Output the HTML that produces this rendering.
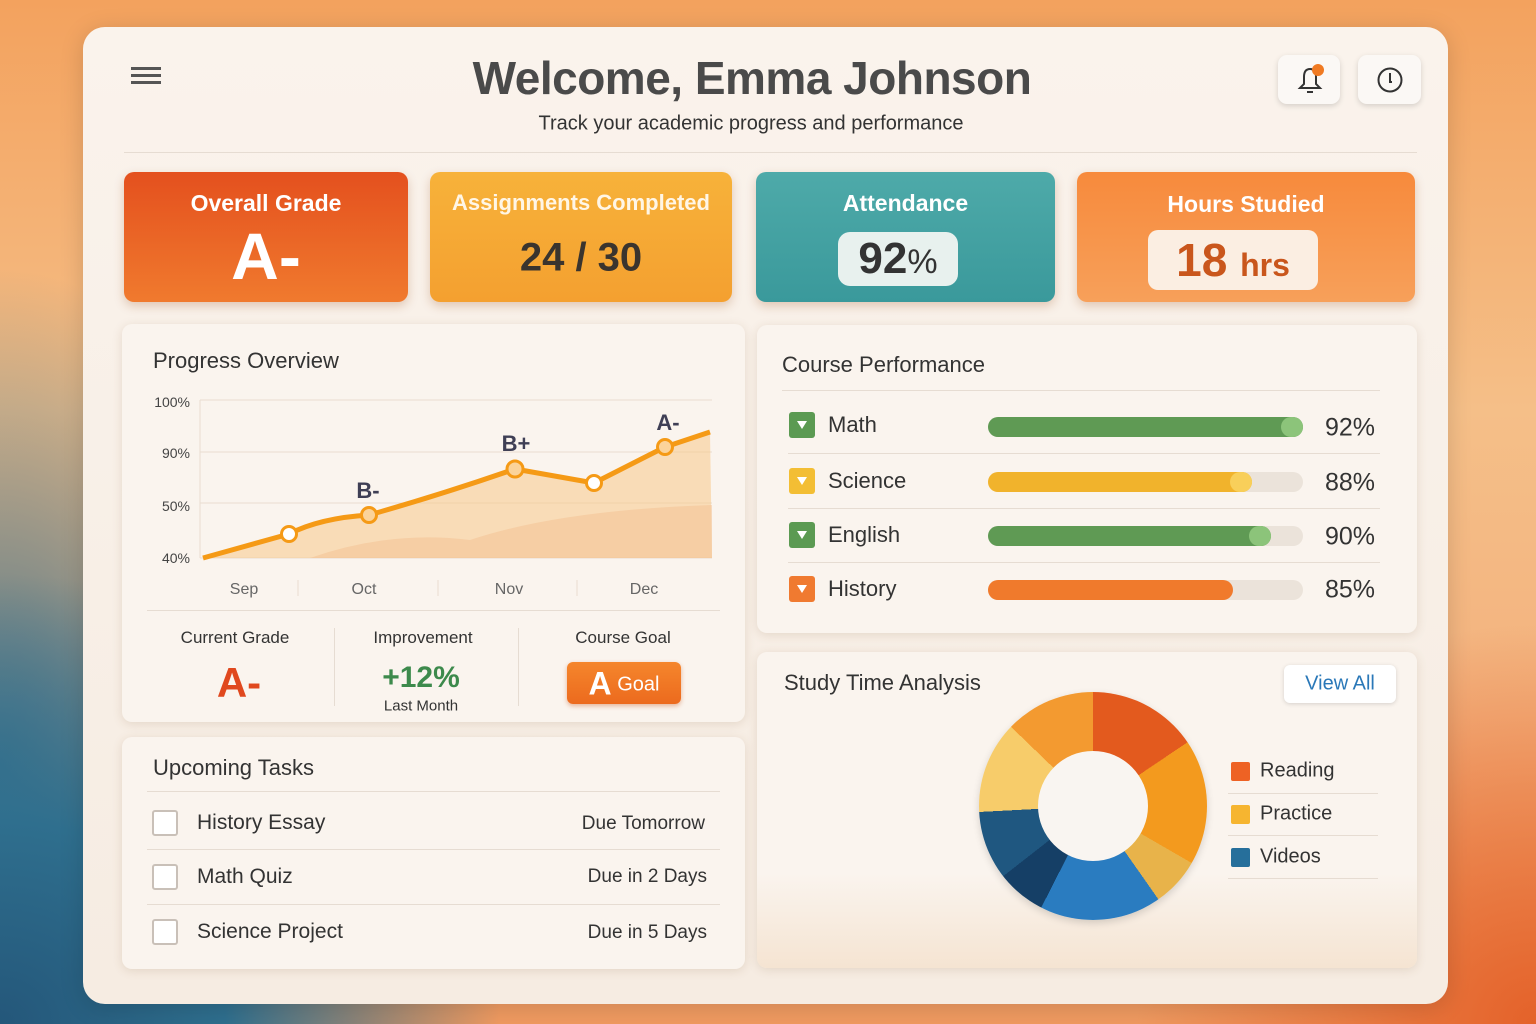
<!DOCTYPE html>
<html><head><meta charset="utf-8"><style>
*{margin:0;padding:0;box-sizing:border-box}
body{width:1536px;height:1024px;overflow:hidden;font-family:"Liberation Sans",sans-serif;color:#333;position:relative;
background:
radial-gradient(ellipse 500px 450px at 0% 100%,#24577a 0%,#2f6f8e 45%,rgba(60,120,140,0) 100%),
radial-gradient(ellipse 300px 500px at 0% 75%,rgba(50,110,140,.9) 0%,rgba(80,140,150,0) 100%),
radial-gradient(ellipse 400px 400px at 100% 100%,#e4622a 0%,rgba(240,140,80,0) 100%),
linear-gradient(180deg,#f3a25e 0%,#f5bf88 40%,#f3b27e 70%,#f09a60 100%);}
.a{position:absolute}
.card{position:absolute;left:83px;top:27px;width:1365px;height:977px;border-radius:22px;background:linear-gradient(180deg,#faf3ec,#f6ece2);box-shadow:0 4px 24px rgba(0,0,0,.15)}
.panel{position:absolute;background:#faf4ee;border-radius:10px;box-shadow:0 2px 10px rgba(120,80,40,.15)}
.stat{position:absolute;top:172px;height:130px;border-radius:10px;box-shadow:0 4px 10px rgba(150,70,20,.25);color:#fff;text-align:center}
.stat .t{position:absolute;left:0;right:0;top:18px;font-size:23px;font-weight:bold}
.line{position:absolute;height:1px;background:#e6dcd2}
.c{position:absolute;transform:translate(-50%,-50%);white-space:nowrap}
.l{position:absolute;transform:translateY(-50%);white-space:nowrap}
.r{position:absolute;transform:translate(-100%,-50%);white-space:nowrap}
.cb{position:absolute;width:26px;height:26px;border-radius:3px}
.cb:after{content:"";position:absolute;left:8px;top:9px;border-left:5px solid transparent;border-right:5px solid transparent;border-top:8px solid #fff}
.track{position:absolute;left:988px;width:315px;height:20px;border-radius:10px;background:#ebe3da}
.fill{position:absolute;left:0;top:0;height:20px;border-radius:10px}
.knob{position:absolute;top:0;width:22px;height:20px;border-radius:10px}
.pct{position:absolute;font-size:25px;color:#333;transform:translate(-100%,-50%)}
.tb{position:absolute;width:26px;height:26px;border:2px solid #c9c0b8;border-radius:3px;background:#fff}
</style></head><body>
<div class="card"></div>
<!-- header -->
<div class="a" style="left:131px;top:67px;width:30px;height:3px;background:#555;box-shadow:0 7px 0 #555,0 14px 0 #555"></div>
<div class="c" style="left:752px;top:78px;font-size:46px;font-weight:bold;color:#4a4a4a;letter-spacing:-0.5px">Welcome, Emma Johnson</div>
<div class="c" style="left:751px;top:124px;font-size:20px;color:#333">Track your academic progress and performance</div>
<div class="a" style="left:1278px;top:55px;width:62px;height:49px;border-radius:9px;background:#fbf8f5;box-shadow:0 2px 6px rgba(0,0,0,.15)"></div>
<svg class="a" style="left:1294px;top:62px" width="36" height="36"><path d="M6 26 L10 22 L10 15 Q10 7 16 7 Q22 7 22 15 L22 22 L26 26 Z M13 30 L19 30" fill="none" stroke="#333" stroke-width="2"/><circle cx="24" cy="8" r="6" fill="#f07a22"/></svg>
<div class="a" style="left:1358px;top:55px;width:63px;height:49px;border-radius:9px;background:#fbf8f5;box-shadow:0 2px 6px rgba(0,0,0,.15)"></div>
<svg class="a" style="left:1376px;top:66px" width="28" height="28"><circle cx="14" cy="14" r="11.5" fill="none" stroke="#333" stroke-width="2"/><path d="M14 7 L14 16 L16 16" fill="none" stroke="#333" stroke-width="2"/></svg>
<div class="line" style="left:124px;top:152px;width:1293px"></div>
<!-- stats -->
<div class="stat" style="left:124px;width:284px;background:linear-gradient(180deg,#e4501e,#f07a2e)"><div class="t">Overall Grade</div><div class="c" style="left:142px;top:84px;font-size:66px;font-weight:bold">A-</div></div>
<div class="stat" style="left:430px;width:302px;background:linear-gradient(180deg,#f7b23a,#f4a030)"><div class="t" style="color:#fff6e6;font-size:22px">Assignments Completed</div><div class="c" style="left:151px;top:86px;font-size:40px;font-weight:bold;color:#3a342e">24 / 30</div></div>
<div class="stat" style="left:756px;width:299px;background:linear-gradient(180deg,#4eaaa9,#3a999b)"><div class="t">Attendance</div>
<div class="a" style="left:82px;top:60px;width:120px;height:54px;border-radius:12px;background:#e8f1ee"></div><div class="c" style="left:142px;top:87px;font-size:44px;font-weight:bold;color:#333">92<span style="font-size:34px;font-weight:normal">%</span></div></div>
<div class="stat" style="left:1077px;width:338px;background:linear-gradient(180deg,#f78a3c,#f7a05a)"><div class="t" style="top:19px">Hours Studied</div>
<div class="a" style="left:71px;top:58px;width:170px;height:60px;border-radius:10px;background:#fbeee2"></div><div class="c" style="left:156px;top:88px;font-size:46px;font-weight:bold;color:#c9561c">18 <span style="font-size:32px">hrs</span></div></div>
<!-- progress -->
<div class="panel" style="left:122px;top:324px;width:623px;height:398px"></div>
<div class="l" style="left:153px;top:361px;font-size:22px;color:#333">Progress Overview</div>
<svg class="a" style="left:140px;top:390px" width="590" height="215">
<g stroke="#e9ddd0" stroke-width="1"><line x1="60" y1="10" x2="572" y2="10"/><line x1="60" y1="62" x2="572" y2="62"/><line x1="60" y1="113" x2="572" y2="113"/><line x1="60" y1="168" x2="572" y2="168"/><line x1="60" y1="10" x2="60" y2="168"/><line x1="158" y1="190" x2="158" y2="206"/><line x1="298" y1="190" x2="298" y2="206"/><line x1="437" y1="190" x2="437" y2="206"/></g>
<g font-size="14" fill="#444" text-anchor="end"><text x="50" y="17">100%</text><text x="50" y="68">90%</text><text x="50" y="121">50%</text><text x="50" y="173">40%</text></g>
<g font-size="16" fill="#666" text-anchor="middle"><text x="104" y="204">Sep</text><text x="224" y="204">Oct</text><text x="369" y="204">Nov</text><text x="504" y="204">Dec</text></g>
<path d="M63 168 L149 144 Q180 128 229 125 Q300 105 375 79 L454 93 L525 57 L570 42 L572 168 Z" fill="#f8c98a" opacity=".55"/>
<path d="M170 168 Q250 140 330 150 Q420 120 572 115 L572 168 Z" fill="#f2b988" opacity=".4"/>
<path d="M63 168 L149 144 Q180 128 229 125 Q300 105 375 79 L454 93 L525 57 L570 42" fill="none" stroke="#f59a16" stroke-width="5" stroke-linejoin="round"/>
<g stroke="#f59a16" stroke-width="3"><circle cx="149" cy="144" r="7.5" fill="#fff"/><circle cx="229" cy="125" r="7.5" fill="#fbd39a"/><circle cx="375" cy="79" r="8" fill="#fbd39a"/><circle cx="454" cy="93" r="7.5" fill="#fff"/><circle cx="525" cy="57" r="7.5" fill="#fbd39a"/></g>
<g font-size="22" fill="#3f3f55" text-anchor="middle" font-weight="bold"><text x="228" y="108">B-</text><text x="376" y="61">B+</text><text x="528" y="40">A-</text></g>
</svg>
<div class="line" style="left:147px;top:610px;width:573px"></div>
<div class="line" style="left:334px;top:628px;width:1px;height:78px"></div>
<div class="line" style="left:518px;top:628px;width:1px;height:78px"></div>
<div class="c" style="left:235px;top:638px;font-size:17px">Current Grade</div>
<div class="c" style="left:239px;top:683px;font-size:42px;font-weight:bold;color:#e0481e">A-</div>
<div class="c" style="left:423px;top:638px;font-size:17px">Improvement</div>
<div class="c" style="left:421px;top:678px;font-size:30px;font-weight:bold;color:#3d8a4c">+12%</div>
<div class="c" style="left:421px;top:706px;font-size:15px">Last Month</div>
<div class="c" style="left:623px;top:638px;font-size:17px">Course Goal</div>
<div class="a" style="left:567px;top:662px;width:114px;height:42px;border-radius:6px;background:linear-gradient(180deg,#f5862c,#ec6a1e);box-shadow:0 2px 5px rgba(200,80,20,.4)"></div>
<div class="c" style="left:624px;top:684px;color:#fff;font-size:20px"><b style="font-size:32px;vertical-align:-4px">A</b> Goal</div>
<!-- course performance -->
<div class="panel" style="left:757px;top:325px;width:660px;height:308px"></div>
<div class="l" style="left:782px;top:365px;font-size:22px">Course Performance</div>
<div class="line" style="left:782px;top:390px;width:598px"></div>
<div class="line" style="left:788px;top:453px;width:592px"></div>
<div class="line" style="left:788px;top:508px;width:592px"></div>
<div class="line" style="left:788px;top:562px;width:592px"></div>
<div class="cb" style="left:789px;top:412px;background:#5b9a52"></div><div class="l" style="left:828px;top:425px;font-size:22px">Math</div>
<div class="cb" style="left:789px;top:468px;background:#f3be34"></div><div class="l" style="left:828px;top:481px;font-size:22px">Science</div>
<div class="cb" style="left:789px;top:522px;background:#5b9a52"></div><div class="l" style="left:828px;top:535px;font-size:22px">English</div>
<div class="cb" style="left:789px;top:576px;background:#f07a30"></div><div class="l" style="left:828px;top:589px;font-size:22px">History</div>
<div class="track" style="top:417px"><div class="fill" style="width:315px;background:#5f9a54"></div><div class="knob" style="left:293px;background:#8cc47a"></div></div>
<div class="track" style="top:472px"><div class="fill" style="width:264px;background:#f1b32c"></div><div class="knob" style="left:242px;background:#f8cf5a"></div></div>
<div class="track" style="top:526px"><div class="fill" style="width:283px;background:#5f9a54"></div><div class="knob" style="left:261px;background:#8cc47a"></div></div>
<div class="track" style="top:580px"><div class="fill" style="width:245px;background:#f07a2c"></div></div>
<div class="pct" style="left:1375px;top:428px">92%</div>
<div class="pct" style="left:1375px;top:483px">88%</div>
<div class="pct" style="left:1375px;top:537px">90%</div>
<div class="pct" style="left:1375px;top:590px">85%</div>
<!-- tasks -->
<div class="panel" style="left:122px;top:737px;width:623px;height:232px"></div>
<div class="l" style="left:153px;top:768px;font-size:22px">Upcoming Tasks</div>
<div class="line" style="left:147px;top:791px;width:573px"></div>
<div class="line" style="left:147px;top:849px;width:573px"></div>
<div class="line" style="left:147px;top:904px;width:573px"></div>
<div class="tb" style="left:152px;top:810px"></div><div class="l" style="left:197px;top:823px;font-size:21px">History Essay</div><div class="r" style="left:705px;top:824px;font-size:19px">Due Tomorrow</div>
<div class="tb" style="left:152px;top:864px"></div><div class="l" style="left:197px;top:877px;font-size:21px">Math Quiz</div><div class="r" style="left:707px;top:877px;font-size:19px">Due in 2 Days</div>
<div class="tb" style="left:152px;top:919px"></div><div class="l" style="left:197px;top:932px;font-size:21px">Science Project</div><div class="r" style="left:707px;top:933px;font-size:19px">Due in 5 Days</div>
<!-- study time -->
<div class="panel" style="left:757px;top:652px;width:660px;height:316px;background:linear-gradient(180deg,#faf4ee 70%,#f5e4d2)"></div>
<div class="l" style="left:784px;top:683px;font-size:22px">Study Time Analysis</div>
<div class="a" style="left:1284px;top:665px;width:112px;height:38px;border-radius:6px;background:#fff;box-shadow:0 1px 4px rgba(0,0,0,.15)"></div>
<div class="c" style="left:1340px;top:684px;font-size:20px;color:#2a78b8">View All</div>
<div class="a" style="left:979px;top:692px;width:228px;height:228px;border-radius:50%;background:conic-gradient(#e35a1e 0 56deg,#f39a1e 56deg 120deg,#e8b34a 120deg 145deg,#2a7cc0 145deg 207deg,#153f66 207deg 232deg,#1f5780 232deg 267deg,#f7cc6a 267deg 314deg,#f39a30 314deg 360deg);box-shadow:0 3px 8px rgba(0,0,0,.15)"></div>
<div class="a" style="left:1038px;top:751px;width:110px;height:110px;border-radius:50%;background:#f9f5f1"></div>
<div class="a" style="left:1231px;top:762px;width:19px;height:19px;border-radius:2px;background:#ee6224"></div><div class="l" style="left:1260px;top:771px;font-size:20px">Reading</div>
<div class="a" style="left:1231px;top:805px;width:19px;height:19px;border-radius:2px;background:#f6b530"></div><div class="l" style="left:1260px;top:814px;font-size:20px">Practice</div>
<div class="a" style="left:1231px;top:848px;width:19px;height:19px;border-radius:2px;background:#266f9b"></div><div class="l" style="left:1260px;top:857px;font-size:20px">Videos</div>
<div class="line" style="left:1228px;top:793px;width:150px"></div>
<div class="line" style="left:1228px;top:835px;width:150px"></div>
<div class="line" style="left:1228px;top:878px;width:150px"></div>
</body></html>
